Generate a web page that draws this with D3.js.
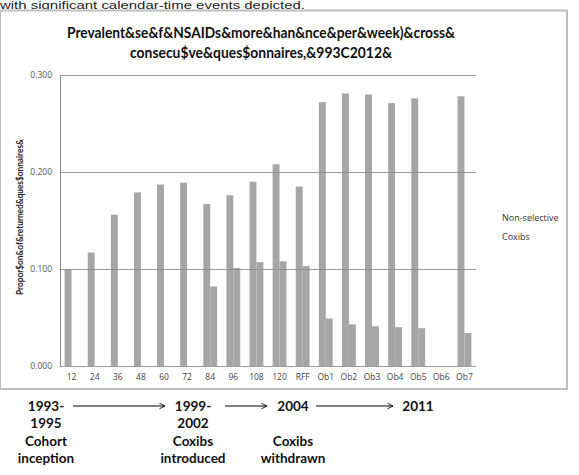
<!DOCTYPE html>
<html><head><meta charset="utf-8">
<script src="https://cdn.jsdelivr.net/npm/d3@7"></script>
<style>body{margin:0;background:#fff}svg{display:block}</style>
</head><body>
<script>
const categories = ["12","24","36","48","60","72","84","96","108","120","RFF","Ob1","Ob2","Ob3","Ob4","Ob5","Ob6","Ob7"];
const nonSelective = [0.100,0.117,0.156,0.179,0.187,0.189,0.167,0.176,0.190,0.208,0.185,0.272,0.281,0.280,0.271,0.276,null,0.278];
const coxibs = [null,null,null,null,null,null,0.082,0.101,0.107,0.108,0.103,0.049,0.043,0.041,0.040,0.039,null,0.034];
const yTicks = [0,0.1,0.2,0.3];
const seriesNames = ["Non-selective","Coxibs"];
const titleLines = ["Prevalent&se&f&NSAIDs&more&han&nce&per&week)&cross&","consecu$ve&ques$onnaires,&993C2012&"];
const yLabel = "Propor$on&of&returned&ques$onnaires&";
const timeline = [
  {x:46, lines:["1993-","1995","Cohort","inception"]},
  {x:193, lines:["1999-","2002","Coxibs","introduced"]},
  {x:293, lines:["2004","","Coxibs","withdrawn"]},
  {x:418, lines:["2011"]}
];
const arrows = [[73,165],[225,267],[316,393]];

const W=579,H=475;
const svg=d3.select("body").append("svg").attr("width",W).attr("height",H);
const defs=svg.append("defs");
defs.append("marker").attr("id","arr").attr("viewBox","0 0 10 10").attr("refX",9).attr("refY",5)
  .attr("markerWidth",7).attr("markerHeight",7).attr("orient","auto")
  .append("path").attr("d","M1,1 L9,5 L1,9").attr("fill","none").attr("stroke","#000").attr("stroke-width",1.2);

// caption fragment at top
svg.append("text").attr("x",0).attr("y",8.5).attr("font-family","Liberation Sans, Arial").attr("font-size",11)
  .attr("fill","#222").attr("textLength",305).attr("lengthAdjust","spacingAndGlyphs").text("with significant calendar-time events depicted.");

// frame
svg.append("rect").attr("x",0).attr("y",10.5).attr("width",567).attr("height",378.5)
  .attr("fill","#fff").attr("stroke","#bdbdbd").attr("stroke-width",2);

const x=d3.scaleBand().domain(categories).range([60,476]);
const sub=d3.scaleBand().domain(seriesNames).range([x.bandwidth()*0.2,x.bandwidth()*0.8]);
const y=d3.scaleLinear().domain([0,0.3]).range([366,75]);

// title
const tf="Lato, 'Open Sans', sans-serif";
svg.append("text").attr("x",261).attr("y",38).attr("text-anchor","middle").attr("font-family",tf)
  .attr("font-weight","bold").attr("font-size",15).attr("fill","#111").attr("textLength",388).attr("lengthAdjust","spacingAndGlyphs").text(titleLines[0]);
svg.append("text").attr("x",261).attr("y",58).attr("text-anchor","middle").attr("font-family",tf)
  .attr("font-weight","bold").attr("font-size",15).attr("fill","#111").attr("textLength",262).attr("lengthAdjust","spacingAndGlyphs").text(titleLines[1]);

// bars
const g=svg.append("g");
const rows=categories.map((c,i)=>({c,vals:[nonSelective[i],coxibs[i]]}));
rows.forEach(r=>{
  r.vals.forEach((v,j)=>{
    if(v==null) return;
    g.append("rect").attr("x",x(r.c)+sub(seriesNames[j])).attr("width",sub.bandwidth())
      .attr("y",y(v)).attr("height",y(0)-y(v)).attr("fill","#a6a6a6");
  });
});

// gridlines on top
const grid=svg.append("g");
yTicks.forEach(t=>{
  grid.append("line").attr("x1",60).attr("x2",476).attr("y1",Math.round(y(t))+0.5).attr("y2",Math.round(y(t))+0.5)
    .attr("stroke","#8a8a8a").attr("stroke-opacity",0.85).attr("stroke-width",1);
});
grid.append("line").attr("x1",60.5).attr("x2",60.5).attr("y1",y(0.3)).attr("y2",y(0)+0.5).attr("stroke","#8a8a8a");

// y axis labels
const yAxis=d3.axisLeft(y).tickValues(yTicks).tickFormat(d3.format(".3f")).tickSize(0).tickPadding(8);
const ya=svg.append("g").attr("transform","translate(60,0)").call(yAxis);
ya.select(".domain").remove();
ya.selectAll("text").attr("font-family","'Open Sans', sans-serif").attr("font-size",8.5).attr("fill","#555");

// x axis labels
const xAxis=d3.axisBottom(x).tickSize(0).tickPadding(8);
const xa=svg.append("g").attr("transform","translate(0,366)").call(xAxis);
xa.select(".domain").remove();
xa.selectAll("text").attr("font-family","'Open Sans', sans-serif").attr("font-size",8.5).attr("fill","#444");

// y label
svg.append("text").attr("transform","translate(23,217) rotate(-90)").attr("text-anchor","middle")
  .attr("font-family",tf).attr("font-weight","bold").attr("font-size",8.5).attr("fill","#222")
  .attr("textLength",156).attr("lengthAdjust","spacingAndGlyphs").text(yLabel);

// legend
seriesNames.forEach((s,i)=>{
  svg.append("text").attr("x",502).attr("y",221+i*19).attr("font-family","'Open Sans', sans-serif")
    .attr("font-size",9).attr("fill","#333").text(s);
});

// timeline
timeline.forEach(t=>{
  t.lines.forEach((l,i)=>{
    if(!l) return;
    svg.append("text").attr("x",t.x).attr("y",411+i*17.3).attr("text-anchor","middle")
      .attr("font-family",tf).attr("font-weight","bold").attr("font-size",13.5).attr("fill","#111").text(l);
  });
});
arrows.forEach(a=>{
  svg.append("line").attr("x1",a[0]).attr("x2",a[1]).attr("y1",406).attr("y2",406)
    .attr("stroke","#000").attr("stroke-width",1).attr("marker-end","url(#arr)");
});
</script>
</body></html>
